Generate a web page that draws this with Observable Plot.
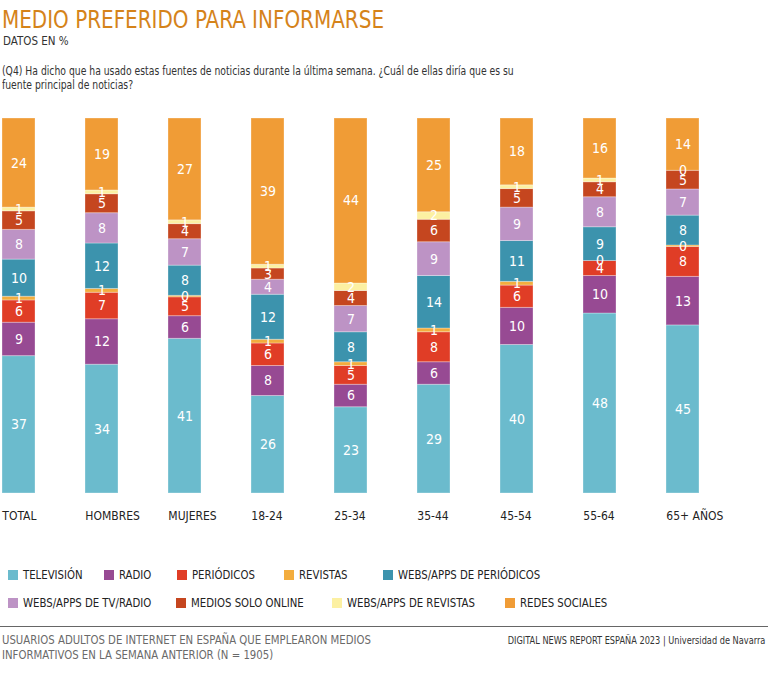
<!DOCTYPE html>
<html>
<head>
<meta charset="utf-8">
<script src="https://cdn.jsdelivr.net/npm/d3@7"></script>
<script src="https://cdn.jsdelivr.net/npm/@observablehq/plot@0.6"></script>
<style>
  html, body { margin: 0; padding: 0; background: #fff; }
  body { width: 768px; height: 684px; position: relative; overflow: hidden;
         font-family: "Liberation Sans Narrow", "DejaVu Sans Condensed", "Liberation Sans", sans-serif; color: #222; }
  .abs { position: absolute; white-space: nowrap; }
  #title { left: 2px; top: 6px; font-size: 25.5px; line-height: 26px; color: #d5831a; transform: scaleX(0.87); transform-origin: 0 0; }
  #subtitle { left: 3px; top: 34px; font-size: 11.5px; line-height: 14px; color: #333; }
  #question { left: 2px; top: 64px; font-size: 11.7px; line-height: 14px; color: #333; transform: scaleX(0.88); transform-origin: 0 0; }
  #chart { left: 0; top: 100px; }
  .leg { position: absolute; display: flex; align-items: center; font-size: 12px; color: #222; white-space: nowrap; }
  .sw { width: 10px; height: 10px; margin-right: 5px; flex: none; }
  .lt { display: inline-block; transform: scaleX(0.94); transform-origin: 0 50%; }
  #rule { left: 0; top: 626px; width: 768px; height: 0; border-top: 1.5px solid #666; }
  #src { left: 2px; top: 633px; font-size: 12px; line-height: 15px; color: #6a6a6a; transform: scaleX(0.94); transform-origin: 0 0; }
  #credit { right: 3px; top: 634px; font-size: 11px; line-height: 14px; color: #333; transform: scaleX(0.83); transform-origin: 100% 0; }
</style>
</head>
<body>
<div id="title" class="abs">MEDIO PREFERIDO PARA INFORMARSE</div>
<div id="subtitle" class="abs">DATOS EN %</div>
<div id="question" class="abs">(Q4) Ha dicho que ha usado estas fuentes de noticias durante la última semana. ¿Cuál de ellas diría que es su<br>fuente principal de noticias?</div>
<div id="chart" class="abs"></div>
<div id="legend"></div>
<div id="rule" class="abs"></div>
<div id="src" class="abs">USUARIOS ADULTOS DE INTERNET EN ESPAÑA QUE EMPLEARON MEDIOS<br>INFORMATIVOS EN LA SEMANA ANTERIOR (N = 1905)</div>
<div id="credit" class="abs">DIGITAL NEWS REPORT ESPAÑA 2023 | Universidad de Navarra</div>
<script>
const categories = ["TOTAL", "HOMBRES", "MUJERES", "18-24", "25-34", "35-44", "45-54", "55-64", "65+ AÑOS"];
const seriesNames = ["TELEVISIÓN", "RADIO", "PERIÓDICOS", "REVISTAS", "WEBS/APPS DE PERIÓDICOS",
                     "WEBS/APPS DE TV/RADIO", "MEDIOS SOLO ONLINE", "WEBS/APPS DE REVISTAS", "REDES SOCIALES"];
const seriesColors = ["#6bbbcd", "#974a93", "#e03d26", "#f3ad3e", "#3c93ad",
                      "#bd93c5", "#c5461f", "#fcf0a2", "#f09c36"];

// values per category (bottom to top)
const television     = [37, 34, 41, 26, 23, 29, 40, 48, 45];
const radio          = [9, 12, 6, 8, 6, 6, 10, 10, 13];
const periodicos     = [6, 7, 5, 6, 5, 8, 6, 4, 8];
const revistas       = [1, 1, 0.4, 1, 1, 1, 1, 0, 0.4];
const websPeriodicos = [10, 12, 8, 12, 8, 14, 11, 9, 8];
const websTvRadio    = [8, 8, 7, 4, 7, 9, 9, 8, 7];
const mediosOnline   = [5, 5, 4, 3, 4, 6, 5, 4, 5];
const websRevistas   = [1, 1, 1, 1, 2, 2, 1, 1, 0];
const redesSociales  = [24, 19, 27, 39, 44, 25, 18, 16, 14];

const seriesValues = [television, radio, periodicos, revistas, websPeriodicos,
                      websTvRadio, mediosOnline, websRevistas, redesSociales];

const rows = [];
seriesNames.forEach((s, si) => {
  categories.forEach((c, ci) => rows.push({cat: c, series: s, value: seriesValues[si][ci]}));
});

const fontFam = getComputedStyle(document.body).fontFamily;

const chart = Plot.plot({
  width: 768,
  height: 440,
  marginLeft: 1,
  marginRight: 67,
  marginTop: 18,
  marginBottom: 47,
  style: {fontFamily: fontFam, background: "transparent"},
  x: {domain: categories, paddingInner: 0.6, paddingOuter: 0, label: null},
  y: {axis: null},
  color: {domain: seriesNames, range: seriesColors},
  marks: [
    Plot.barY(rows, Plot.stackY({
      x: "cat", y: "value", fill: "series", order: seriesNames, offset: "normalize",
      stroke: "white", strokeOpacity: 0.3, strokeWidth: 1
    })),
    Plot.text(rows, Plot.stackY({
      x: "cat", y: "value", z: "series", order: seriesNames, offset: "normalize",
      text: d => String(Math.round(d.value)), fill: "white", fontSize: 14
    })),
    Plot.axisX({tickSize: 0, tickPadding: 18, textAnchor: "start", dx: -16.67, fontSize: 12, fill: "#222", label: null})
  ]
});
document.getElementById("chart").appendChild(chart);

// legend built from the color scale
const color = chart.scale("color");
const legendLayout = [
  [8, 568], [104, 568], [177, 568], [284, 568], [383, 568],
  [8, 596], [176, 596], [332, 596], [505, 596]
];
const legend = document.getElementById("legend");
color.domain.forEach((name, i) => {
  const item = document.createElement("div");
  item.className = "leg";
  item.style.left = legendLayout[i][0] + "px";
  item.style.top = legendLayout[i][1] + "px";
  const sw = document.createElement("span");
  sw.className = "sw";
  sw.style.background = color.apply(name);
  const t = document.createElement("span");
  t.className = "lt";
  t.textContent = name;
  item.appendChild(sw);
  item.appendChild(t);
  legend.appendChild(item);
});
</script>
</body>
</html>
